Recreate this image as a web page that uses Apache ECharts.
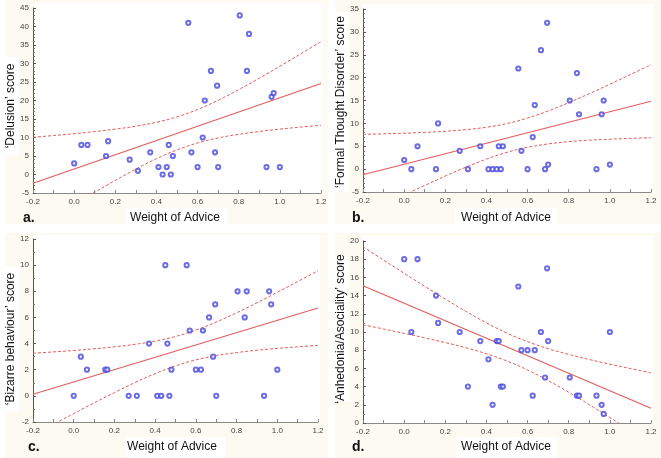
<!DOCTYPE html>
<html><head><meta charset="utf-8">
<script src="https://cdn.jsdelivr.net/npm/echarts@6/dist/echarts.min.js"></script>
<style>html,body{margin:0;padding:0;background:#fff}#c{width:661px;height:458px}</style>
</head><body><div id="c"></div>
<script>
// ---- data ----
const advice = [0.00,0.035,0.065,0.155,0.165,0.27,0.31,0.37,0.41,0.43,0.45,0.46,0.47,0.48,0.555,0.57,0.60,0.625,0.635,0.665,0.685,0.695,0.70,0.805,0.84,0.85,0.935,0.96,0.97,1.00];
const delusion      = [3,8,8,5,9,4,1,6,2,0,2,8,0,5,41,6,2,10,20,28,6,24,2,43,28,38,2,21,22,2];
const formalThought = [2,0,5,0,10,4,0,5,0,0,0,5,0,5,22,4,0,7,14,26,0,32,1,15,21,12,0,12,15,1];
const bizarre       = [0,3,2,2,2,0,0,4,0,0,10,4,0,2,10,5,2,2,5,6,3,7,0,8,6,8,0,8,7,2];
const anhedonia     = [18,10,18,14,11,10,4,9,7,2,9,9,4,4,15,8,8,3,8,10,5,17,9,5,3,3,3,2,1,10];

// regression line end values at x = -0.2 and x = 1.2
const fitX = [-0.2, 1.2];
const delusionFit = [-2.39, 24.62];
const formalFit   = [-1.21, 14.85];
const bizarreFit  = [0.12, 6.72];
const anhedoniaFit= [15.08, 1.61];

// 95% confidence band values at these x positions
const bandX = [-0.2,-0.1,0.0,0.1,0.2,0.3,0.4,0.5,0.6,0.7,0.8,0.9,1.0,1.1,1.2];
const delusionUpper = [10.06,10.53,11.04,11.61,12.26,13.06,14.12,15.58,17.56,20.06,22.94,26.03,29.26,32.57,35.93];
const delusionLower = [-14.84,-11.45,-8.10,-4.81,-1.60,1.46,4.26,6.66,8.52,9.88,10.86,11.63,12.26,12.81,13.31];
const formalUpper = [7.59,7.71,7.84,8.03,8.28,8.63,9.15,9.97,11.17,12.71,14.52,16.50,18.56,20.68,22.84];
const formalLower = [-10.01,-7.83,-5.68,-3.57,-1.52,0.43,2.19,3.67,4.77,5.51,6.00,6.32,6.54,6.72,6.86];
const bizarreUpper = [3.26,3.36,3.47,3.60,3.75,3.94,4.19,4.54,5.03,5.65,6.35,7.12,7.92,8.74,9.57];
const bizarreLower = [-3.03,-2.18,-1.36,-0.54,0.25,1.01,1.70,2.29,2.75,3.08,3.31,3.49,3.63,3.75,3.86];
const anhedoniaUpper = [19.37,17.90,16.45,15.02,13.62,12.27,11.00,9.88,8.94,8.17,7.54,6.98,6.46,5.98,5.51];
const anhedoniaLower = [10.79,10.33,9.85,9.36,8.84,8.27,7.61,6.81,5.82,4.66,3.38,2.01,0.60,-0.84,-2.29];

// axis ranges
const xRange = [-0.2, 1.2, 0.2];
const delusionRange = [-5, 45, 5];
const formalRange = [-5, 35, 5];
const bizarreRange = [-2, 12, 2];
const anhedoniaRange = [0, 20, 2];

const xName = 'Weight of Advice';
const yNames = ['\u2018Delusion\u2019 score', '\u2018Formal Thought Disorder\u2019 score', '\u2018Bizarre behaviour\u2019 score', '\u2018Anhedonia/Asociality\u2019 score'];
const letters = ['a.', 'b.', 'c.', 'd.'];

// ---- layout ----
const panels = [
  {ys: delusion, fit: delusionFit, up: delusionUpper, lo: delusionLower, range: delusionRange,
   grid: {left: 33, top: 8, width: 288, height: 185}, cream: [5,0,323,224], white: [33,3,290,190],
   yBox: [1,57,18,98], yText: [11,106], xBox: [126,208,102,22], xText: [175,218], letter: [23,218]},
  {ys: formalThought, fit: formalFit, up: formalUpper, lo: formalLower, range: formalRange,
   grid: {left: 363, top: 9, width: 288, height: 183}, cream: [335,0,326,224], white: [363,4,290,188],
   yBox: [331,12,18,180], yText: [341,102], xBox: [455,208,103,22], xText: [506,218], letter: [352,218]},
  {ys: bizarre, fit: bizarreFit, up: bizarreUpper, lo: bizarreLower, range: bizarreRange,
   grid: {left: 33, top: 239, width: 285, height: 183}, cream: [5,233,323,225], white: [33,235,287,187],
   yBox: [1,266,18,145], yText: [11,339], xBox: [125,437,100,22], xText: [172,447], letter: [28,447]},
  {ys: anhedonia, fit: anhedoniaFit, up: anhedoniaUpper, lo: anhedoniaLower, range: anhedoniaRange,
   grid: {left: 363, top: 241, width: 288, height: 182}, cream: [335,233,326,225], white: [363,236,290,187],
   yBox: [331,257,18,144], yText: [341,329], xBox: [456,437,102,22], xText: [506,447], letter: [352,447]}
];

const FONT = "'Liberation Sans', Arial, sans-serif";
const RED = '#e25c5c';
const BLUE = '#4848dc';
const fmt1 = v => (Math.abs(v) < 1e-9 ? 0 : v).toFixed(1);
const fmt0 = v => String(Math.round(v));

const graphic = [];
panels.forEach((p, i) => {
  graphic.push({type: 'rect', z: -20, silent: true, shape: {x: p.cream[0], y: p.cream[1], width: p.cream[2], height: p.cream[3]}, style: {fill: '#fdfbf1'}});
  graphic.push({type: 'rect', z: -10, silent: true, shape: {x: p.white[0], y: p.white[1], width: p.white[2], height: p.white[3]}, style: {fill: '#ffffff'}});
  graphic.push({type: 'rect', z: 5, silent: true, shape: {x: p.yBox[0], y: p.yBox[1], width: p.yBox[2], height: p.yBox[3]}, style: {fill: '#ffffff'}});
  graphic.push({type: 'rect', z: 5, silent: true, shape: {x: p.xBox[0], y: p.xBox[1], width: p.xBox[2], height: p.xBox[3]}, style: {fill: '#ffffff'}});
  graphic.push({type: 'text', z: 10, silent: true, x: p.yText[0], y: p.yText[1], rotation: Math.PI / 2,
    style: {text: yNames[i], font: '12px ' + FONT, fill: '#111', align: 'center', verticalAlign: 'middle'}});
  graphic.push({type: 'text', z: 10, silent: true, x: p.xText[0], y: p.xText[1],
    style: {text: xName, font: '12px ' + FONT, fill: '#111', align: 'center', verticalAlign: 'middle'}});
  graphic.push({type: 'text', z: 10, silent: true, x: p.letter[0], y: p.letter[1],
    style: {text: letters[i], font: 'bold 14px ' + FONT, fill: '#111', align: 'left', verticalAlign: 'middle'}});
});

const option = {
  animation: false,
  backgroundColor: '#ffffff',
  graphic: graphic,
  grid: panels.map(p => Object.assign({containLabel: false, show: false}, p.grid)),
  xAxis: panels.map((p, i) => ({
    gridIndex: i, type: 'value', min: xRange[0], max: xRange[1], interval: xRange[2],
    axisLine: {show: true, onZero: false, lineStyle: {color: '#8a8a8a', width: 1}},
    axisTick: {show: true, inside: true, length: 3, lineStyle: {color: '#8a8a8a'}},
    minorTick: {show: true, splitNumber: 2, length: 3, lineStyle: {color: '#8a8a8a'}},
    splitLine: {show: false},
    axisLabel: {fontSize: 8, fontFamily: FONT, color: '#444', margin: 5, formatter: fmt1}
  })),
  yAxis: panels.map((p, i) => ({
    gridIndex: i, type: 'value', min: p.range[0], max: p.range[1], interval: p.range[2],
    axisLine: {show: true, onZero: false, lineStyle: {color: '#555', width: 1}},
    axisTick: {show: true, inside: true, length: 3, lineStyle: {color: '#555'}},
    minorTick: {show: true, splitNumber: p.range[2], length: 2, lineStyle: {color: '#777'}},
    splitLine: {show: false},
    axisLabel: {fontSize: 8, fontFamily: FONT, color: '#444', margin: 4, formatter: fmt0}
  })),
  series: []
};

panels.forEach((p, i) => {
  option.series.push({
    type: 'line', xAxisIndex: i, yAxisIndex: i, showSymbol: false, smooth: 0.4, clip: true, z: 3,
    data: bandX.map((x, k) => [x, p.up[k]]),
    lineStyle: {color: RED, width: 1, type: [3, 2]}
  });
  option.series.push({
    type: 'line', xAxisIndex: i, yAxisIndex: i, showSymbol: false, smooth: 0.4, clip: true, z: 3,
    data: bandX.map((x, k) => [x, p.lo[k]]),
    lineStyle: {color: RED, width: 1, type: [3, 2]}
  });
  option.series.push({
    type: 'line', xAxisIndex: i, yAxisIndex: i, showSymbol: false, clip: true, z: 3,
    data: fitX.map((x, k) => [x, p.fit[k]]),
    lineStyle: {color: RED, width: 1.1}
  });
  option.series.push({
    type: 'scatter', xAxisIndex: i, yAxisIndex: i, symbol: 'emptyCircle', symbolSize: 4.2, z: 4,
    data: advice.map((x, k) => [x, p.ys[k]]),
    itemStyle: {color: BLUE, borderColor: BLUE, borderWidth: 0.9}
  });
});

const chart = echarts.init(document.getElementById('c'), null, {renderer: 'canvas'});
chart.setOption(option);
</script>
</body></html>
